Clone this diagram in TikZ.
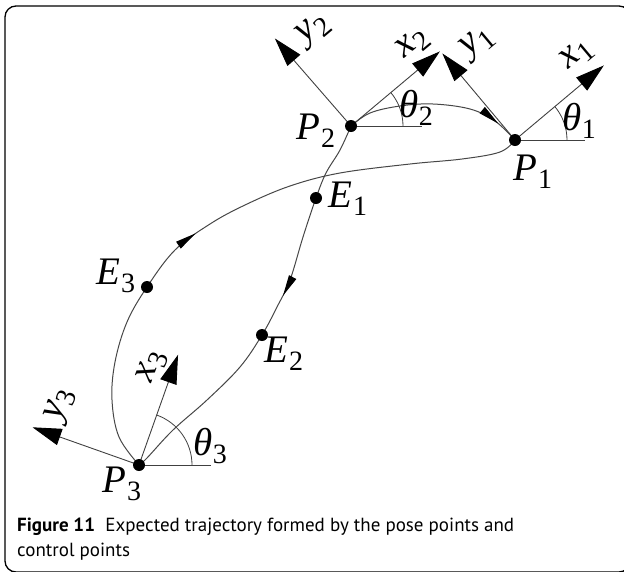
\documentclass[tikz,border=0pt]{standalone}
\usepackage{fontspec}
\setmainfont{Liberation Serif}
\newfontfamily\capfont{PT Sans}
\usetikzlibrary{arrows.meta,decorations.markings,backgrounds}
\newcommand\symb[2]{\textit{#1}\kern0.5pt\raisebox{-8pt}{\fontsize{28}{28}\selectfont #2}}
\tikzset{
  dot/.style={circle, fill=black, inner sep=0pt, minimum size=12pt},
  axis/.style={draw=black!75, line width=0.9pt, -{Triangle[length=29pt,width=17pt,color=black]}},
  thinline/.style={draw=black!75, line width=0.8pt},
  traj/.style={draw=black!72, line width=1pt},
  arrowat/.style={postaction={decorate}, decoration={markings, mark=at position #1 with {\arrow{Triangle[length=21pt,width=8pt,color=black]}}}},
  lab/.style={font=\fontsize{39}{39}\selectfont, inner sep=0pt},
  capstyle/.style={anchor=base west, inner sep=0pt, font=\capfont\fontsize{19}{19}\selectfont}
}
\begin{document}
\begin{tikzpicture}[x=1pt,y=1pt]
\useasboundingbox (0,-571) rectangle (624,0);
% points
\node[dot] (P1) at (515,-140) {};
\node[dot] (P2) at (351,-126) {};
\node[dot] (P3) at (139,-465) {};
\node[dot] (E1) at (316,-198) {};
\node[dot] (E2) at (262,-335) {};
\node[dot] (E3) at (147,-287) {};
\begin{scope}[on background layer]
\draw[line width=1.3pt, rounded corners=11pt] (5,-6) rectangle (630,-572);
% trajectory
\draw[traj, arrowat=0.44] plot[smooth, tension=0.6] coordinates {(P3.center) (119,-437) (112,-400) (115,-362) (127,-322) (E3.center) (175,-250) (210,-224) (245,-205) (290,-186) (340,-173) (410,-164) (462,-159) (500,-152) (P1.center)};
\draw[traj, arrowat=0.87] plot[smooth, tension=0.6] coordinates {(P2.center) (370,-113) (400,-106) (433,-104) (470,-109) (495,-121) (P1.center)};
\draw[traj, arrowat=0.45] plot[smooth, tension=0.6] coordinates {(P2.center) (340,-150) (326,-173) (E1.center) (303,-237) (290,-280) (277,-307) (E2.center) (240,-367) (207,-400) (173,-430) (147,-458) (P3.center)};
% frames
\path (P1.center) ++(40:116) coordinate (x1) (P1.center) ++(130:113) coordinate (y1);
\path (P2.center) ++(40:116) coordinate (x2) (P2.center) ++(131:116) coordinate (y2);
\path (P3.center) ++(70.5:117) coordinate (x3) (P3.center) ++(160.5:113) coordinate (y3);
\draw[axis] (P1.center) -- (x1);
\draw[axis] (P1.center) -- (y1);
\draw[axis] (P2.center) -- (x2);
\draw[axis] (P2.center) -- (y2);
\draw[axis] (P3.center) -- (x3);
\draw[axis] (P3.center) -- (y3);
\draw[thinline] (P1.center) -- ++(70,0) coordinate (h1);
\draw[thinline] (P2.center) -- ++(71,0) coordinate (h2);
\draw[thinline] (P3.center) -- ++(72,0) coordinate (h3);
\draw[thinline] (P1.center) ++(52,0) arc[start angle=0, end angle=40, radius=52];
\draw[thinline] (P2.center) ++(52,0) arc[start angle=0, end angle=40, radius=52];
\draw[thinline] (P3.center) ++(53,0) arc[start angle=0, end angle=70.5, radius=53];
\end{scope}
% labels
\node[lab] (lP1) at (533,-172) {\symb{P}{1}};
\node[lab] (lP2) at (316,-131) {\symb{P}{2}};
\node[lab] (lP3) at (122,-484) {\symb{P}{3}};
\node[lab] (lE1) at (348,-199) {\symb{E}{1}};
\node[lab] (lE2) at (284,-354) {\symb{E}{2}};
\node[lab] (lE3) at (116,-276) {\symb{E}{3}};
\node[lab] (lt1) at (579,-121) {\symb{θ}{1}};
\node[lab] (lt2) at (416,-108) {\symb{θ}{2}};
\node[lab] (lt3) at (210,-446) {\symb{θ}{3}};
\node[lab, rotate=40] (lx1) at (577,-55) {\symb{x}{1}};
\node[lab, rotate=40] (ly1) at (478,-43) {\symb{y}{1}};
\node[lab, rotate=40] (lx2) at (413,-44) {\symb{x}{2}};
\node[lab, rotate=40] (ly2) at (314,-30) {\symb{y}{2}};
\node[lab, rotate=70] (lx3) at (152,-367) {\symb{x}{3}};
\node[lab, rotate=70] (ly3) at (60,-405) {\symb{y}{3}};
% caption
\node[capstyle] (cap1) at (17,-531) {\textbf{Figure 11}\hspace{0.55em}Expected trajectory formed by the pose points and};
\node[capstyle] (cap2) at (17,-556) {control points};
\end{tikzpicture}
\end{document}
